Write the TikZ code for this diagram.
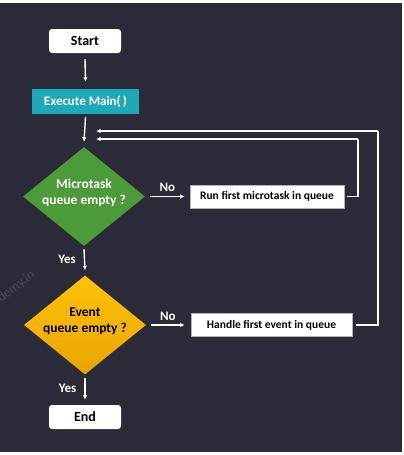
\documentclass[tikz,border=0pt]{standalone}
\usepackage{fontspec}
\setmainfont{Carlito}
\usetikzlibrary{shapes.geometric,arrows.meta}
\definecolor{bg}{HTML}{2A2A38}
\definecolor{teal}{HTML}{1FA9B8}
\definecolor{dgreen}{HTML}{4D9A3A}
\definecolor{ytop}{HTML}{FFC20A}
\definecolor{ybot}{HTML}{E8A400}
\definecolor{wm}{HTML}{4A4A58}
\tikzset{
  term/.style={draw=none,fill=white,rounded corners=3pt,minimum width=72pt,minimum height=24pt,inner sep=0pt,font=\fontsize{14}{15}\selectfont\bfseries,text=black},
  procbox/.style={draw=gray!60,line width=0.8pt,fill=white,minimum height=23pt,inner sep=0pt,font=\fontsize{11.5}{12}\selectfont\bfseries,text=black},
  decide/.style={diamond,draw=none,minimum width=122pt,minimum height=99pt,inner sep=0pt},
  dtext/.style={align=center,inner sep=0pt,font=\fontsize{13.5}{16}\selectfont\bfseries,yshift=4pt},
  flow/.style={draw=white,line width=1.4pt,-{Latex[length=4.5pt,width=4.5pt]}},
  wire/.style={draw=white,line width=1.4pt},
  lbl/.style={text=white,font=\fontsize{13}{14}\selectfont\bfseries,inner sep=0pt}
}
\begin{document}
\begin{tikzpicture}[x=1pt,y=-1pt]
\useasboundingbox (0,0) rectangle (404,455);
\fill[white] (0,0) rectangle (404,455);
\fill[bg] (0,3) rectangle (402,452);
\begin{scope}
\clip (0,3) rectangle (402,452);
\node[text=wm,rotate=38,font=\fontsize{13.5}{14}\selectfont,anchor=west,inner sep=0pt] (wmk) at (-1,300) {demy.in};
\end{scope}
\node[term] (start) at (85,41) {Start};
\node[fill=teal,minimum width=107pt,minimum height=25pt,inner sep=0pt,text=white,font=\fontsize{13}{14}\selectfont\bfseries] (exec) at (85.5,101.5) {Execute Main(\,)};
\node[decide,fill=dgreen,label={[dtext,text=white]center:{Microtask\\queue empty ?}}] (micro) at (84,196.5) {};
\node[decide,top color=ytop,bottom color=ybot,label={[dtext,text=black]center:{Event\\queue empty ?}}] (event) at (85,325) {};
\node[term] (end) at (85,417) {End};
\node[procbox,minimum width=154pt] (run) at (267,196.5) {Run first microtask in queue};
\node[procbox,minimum width=161pt] (handle) at (271.5,325) {Handle first event in queue};
\coordinate (t1) at (96,131);
\coordinate (t2) at (96,139);
\coordinate (r1) at (378,131);
\coordinate (r2) at (358,139);
\draw[flow] ([yshift=-6pt]start.south) -- ([yshift=7pt]exec.north);
\draw[flow] ([yshift=-3pt]exec.south) -- ([yshift=5pt]micro.north);
\draw[flow] ([xshift=5pt]micro.east) -- node[lbl,above=4pt] (no1) {No} ([xshift=-5pt]run.west);
\draw[flow] ([xshift=5pt]event.east) -- node[lbl,above=4pt] (no2) {No} ([xshift=-6pt]handle.west);
\draw[flow] ([yshift=-3pt]micro.south) -- node[lbl,left=8pt] (yes1) {Yes} ([yshift=5pt]event.north);
\draw[flow] ([yshift=-3pt]event.south) -- node[lbl,left=8pt] (yes2) {Yes} ([yshift=5pt]end.north);
\draw[wire] ([xshift=3pt]run.east) -| (r2);
\draw[flow] (r2) -- (t2);
\draw[wire] ([xshift=4pt]handle.east) -| (r1);
\draw[flow] (r1) -- (t1);
\end{tikzpicture}
\end{document}
